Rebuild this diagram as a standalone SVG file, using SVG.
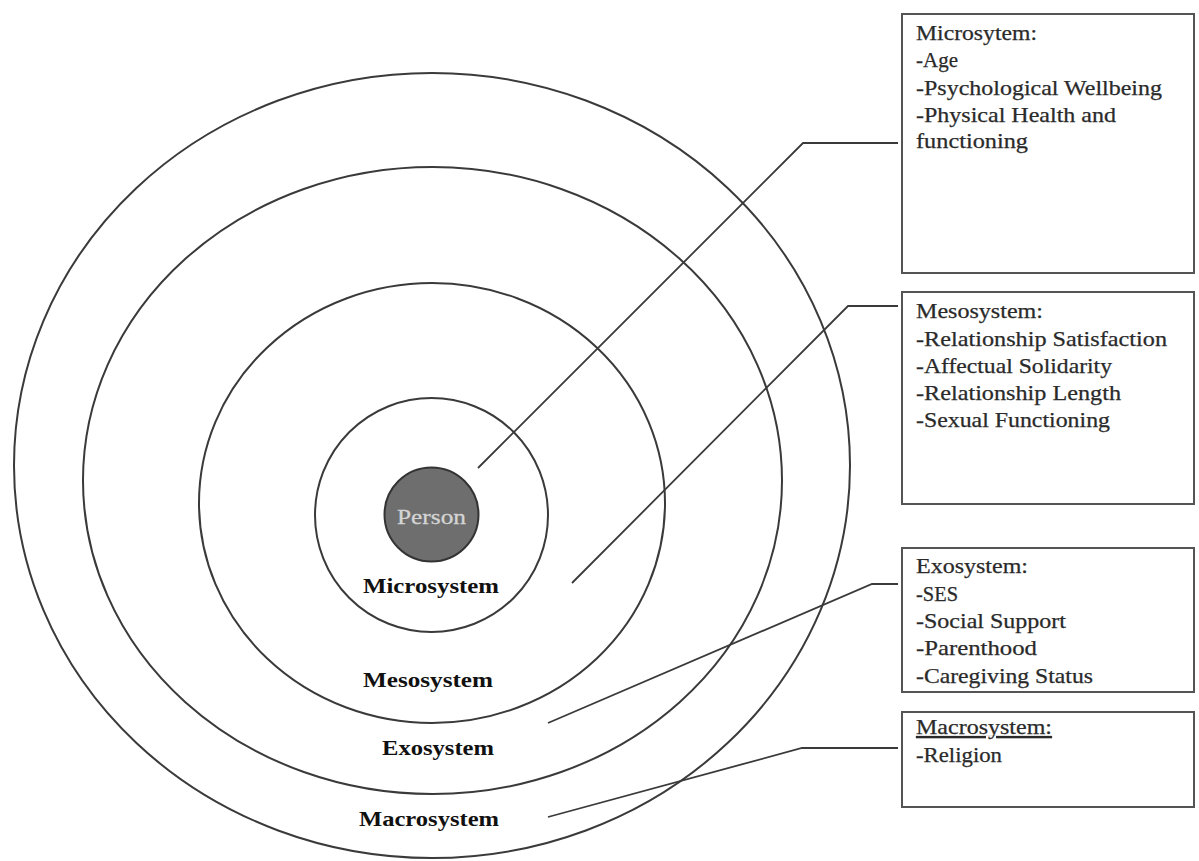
<svg xmlns="http://www.w3.org/2000/svg" width="1199" height="861" viewBox="0 0 1199 861">
  <style>
    .ring { fill: none; stroke: #3a3a3a; stroke-width: 2; }
    .box { fill: #fff; stroke: #555; stroke-width: 2; }
    .conn { fill: none; stroke: #3a3a3a; stroke-width: 1.8; }
    .bt { font-family: "Liberation Serif", "Times New Roman", serif; font-size: 21px; fill: #2a2a2a; stroke: #2a2a2a; stroke-width: 0.25; }
    .lbl { font-family: "Liberation Serif", "Times New Roman", serif; font-size: 21px; font-weight: bold; fill: #111; }
    .person { font-family: "Liberation Serif", "Times New Roman", serif; font-size: 21px; fill: #d4d4d4; stroke: #d4d4d4; stroke-width: 0.3; }
  </style>
  <rect width="1199" height="861" fill="#fff"/>
  <g id="rings">
    <ellipse id="macro-ring" class="ring" cx="432" cy="465.5" rx="418" ry="392.5"/>
    <ellipse id="exo-ring" class="ring" cx="432.5" cy="480.5" rx="349.5" ry="313.5"/>
    <ellipse id="meso-ring" class="ring" cx="432" cy="503" rx="233" ry="220"/>
    <ellipse id="micro-ring" class="ring" cx="431.5" cy="515" rx="116.5" ry="117"/>
  </g>
  <g id="person">
    <circle cx="431.5" cy="514.5" r="47" fill="#6e6e6e" stroke="#333" stroke-width="2"/>
    <text class="person" x="431.5" y="524" text-anchor="middle" textLength="69" lengthAdjust="spacingAndGlyphs">Person</text>
  </g>
  <g id="labels">
    <text class="lbl" x="363" y="593" textLength="136" lengthAdjust="spacingAndGlyphs">Microsystem</text>
    <text class="lbl" x="363" y="687" textLength="130" lengthAdjust="spacingAndGlyphs">Mesosystem</text>
    <text class="lbl" x="382" y="755" textLength="112" lengthAdjust="spacingAndGlyphs">Exosystem</text>
    <text class="lbl" x="359" y="826" textLength="140" lengthAdjust="spacingAndGlyphs">Macrosystem</text>
  </g>
  <g id="connectors">
    <polyline class="conn" points="478,468 803,143 898,143"/>
    <polyline class="conn" points="572,583 848,306 898,306"/>
    <polyline class="conn" points="548,723 872,584 898,584"/>
    <polyline class="conn" points="548,817 802,748 898,748"/>
  </g>
  <g id="box-micro">
    <rect class="box" x="902" y="14" width="292" height="259"/>
    <text class="bt" x="916" y="40" textLength="121" lengthAdjust="spacingAndGlyphs">Microsytem:</text>
    <text class="bt" x="916" y="67" textLength="42" lengthAdjust="spacingAndGlyphs">-Age</text>
    <text class="bt" x="916" y="95" textLength="246" lengthAdjust="spacingAndGlyphs">-Psychological Wellbeing</text>
    <text class="bt" x="916" y="122" textLength="200" lengthAdjust="spacingAndGlyphs">-Physical Health and</text>
    <text class="bt" x="916" y="148" textLength="112" lengthAdjust="spacingAndGlyphs">functioning</text>
  </g>
  <g id="box-meso">
    <rect class="box" x="902" y="292" width="292" height="212"/>
    <text class="bt" x="916" y="318" textLength="127" lengthAdjust="spacingAndGlyphs">Mesosystem:</text>
    <text class="bt" x="916" y="346" textLength="251" lengthAdjust="spacingAndGlyphs">-Relationship Satisfaction</text>
    <text class="bt" x="916" y="373" textLength="196" lengthAdjust="spacingAndGlyphs">-Affectual Solidarity</text>
    <text class="bt" x="916" y="400" textLength="205" lengthAdjust="spacingAndGlyphs">-Relationship Length</text>
    <text class="bt" x="916" y="427" textLength="194" lengthAdjust="spacingAndGlyphs">-Sexual Functioning</text>
  </g>
  <g id="box-exo">
    <rect class="box" x="902" y="548" width="292" height="144"/>
    <text class="bt" x="916" y="573" textLength="112" lengthAdjust="spacingAndGlyphs">Exosystem:</text>
    <text class="bt" x="916" y="601" textLength="42" lengthAdjust="spacingAndGlyphs">-SES</text>
    <text class="bt" x="916" y="628" textLength="150" lengthAdjust="spacingAndGlyphs">-Social Support</text>
    <text class="bt" x="916" y="655" textLength="121" lengthAdjust="spacingAndGlyphs">-Parenthood</text>
    <text class="bt" x="916" y="683" textLength="177" lengthAdjust="spacingAndGlyphs">-Caregiving Status</text>
  </g>
  <g id="box-macro">
    <rect class="box" x="902" y="712" width="292" height="95"/>
    <text class="bt" x="916" y="734" textLength="136" lengthAdjust="spacingAndGlyphs" text-decoration="underline">Macrosystem:</text>
    <text class="bt" x="916" y="762" textLength="86" lengthAdjust="spacingAndGlyphs">-Religion</text>
  </g>
</svg>
